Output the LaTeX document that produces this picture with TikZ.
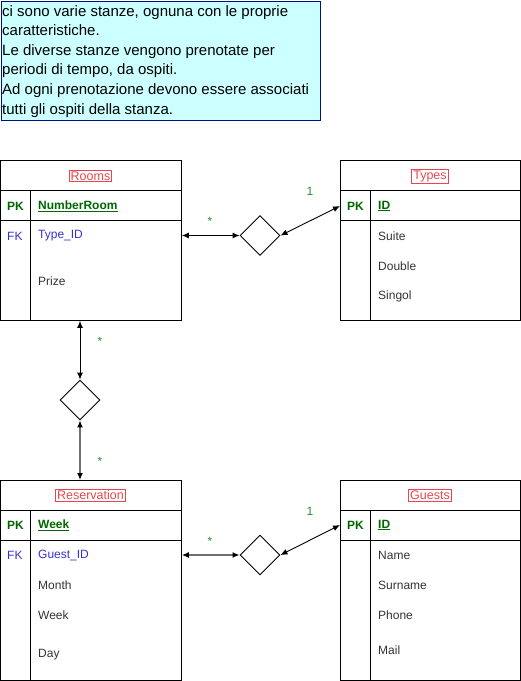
\documentclass[tikz,border=0pt]{standalone}
\usepackage{fontspec}
\setmainfont{Liberation Sans}
\usetikzlibrary{shapes.geometric,arrows.meta}
\definecolor{boxfill}{HTML}{CCFFFF}
\definecolor{boxline}{HTML}{001080}
\definecolor{pkgreen}{HTML}{006600}
\definecolor{fkblue}{HTML}{3333CC}
\definecolor{titlered}{HTML}{E6474F}
\definecolor{lblgreen}{HTML}{2E8B2E}
\definecolor{txt}{HTML}{333333}
\definecolor{grayline}{HTML}{707070}
\begin{document}
\begin{tikzpicture}[x=1pt,y=-1pt,
  tbl/.style={draw,line width=0.9pt,minimum width=#1,minimum height=160pt,anchor=north west,inner sep=0pt},
  sep/.style={line width=0.9pt},
  fld/.style={anchor=west,inner sep=0pt,text=txt,font=\fontsize{12}{14}\selectfont},
  pkf/.style={fld,text=pkgreen,font=\fontsize{12}{14}\selectfont\bfseries},
  fkf/.style={fld,text=fkblue},
  ttl/.style={draw=titlered,text=titlered,inner sep=1.5pt,line width=0.8pt,font=\fontsize{12.5}{14}\selectfont},
  rel/.style={draw,diamond,aspect=1,minimum width=40pt,minimum height=40pt,inner sep=0pt,line width=0.9pt,fill=white},
  conn/.style={{Latex[length=7pt,width=6pt,color=black]}-{Latex[length=7pt,width=6pt,color=black]},line width=0.9pt},
  lbl/.style={text=lblgreen,inner sep=0pt,font=\fontsize{12}{14}\selectfont},
  ]
\useasboundingbox (0,0) rectangle (521,681);

% description box
\node[draw=boxline,fill=boxfill,line width=0.9pt,minimum width=319pt,minimum height=119pt,anchor=north west,inner sep=0pt] (desc) at (0.5,0.5) {};
\node[anchor=north west,inner sep=0pt,align=left,text=black,font=\fontsize{15}{19.6}\selectfont] (desctext) at (2,5)
{ci sono varie stanze, ognuna con le proprie\\caratteristiche.\\Le diverse stanze vengono prenotate per\\periodi di tempo, da ospiti.\\Ad ogni prenotazione devono essere associati\\tutti gli ospiti della stanza.};

% Rooms
\node[tbl=181pt] (rooms) at (0,160) {};
\draw[sep] (0,190) -- (181,190);
\draw[sep] (0,220) -- (181,220);
\draw[sep] (30,190) -- (30,320);
\node[ttl] (rtitle) at (90.5,176) {Rooms};
\node[pkf] (rpk) at (7,206) {PK};
\node[pkf] (rpkn) at (38,206) {\underline{NumberRoom}};
\node[fkf] (rfk) at (7,236) {FK};
\node[fkf] (rfkn) at (38,236) {Type\_ID};
\node[fld] (rf1) at (38,281) {Prize};

% Types
\node[tbl=180pt] (types) at (340,160) {};
\draw[sep] (340,190) -- (520,190);
\draw[sep] (340,220) -- (520,220);
\draw[sep] (370,190) -- (370,320);
\node[ttl] (ttitle) at (430,176) {Types};
\node[pkf] (tpk) at (347,206) {PK};
\node[pkf] (tpkn) at (378,206) {\underline{ID}};
\node[fld] (tf1) at (378,236) {Suite};
\node[fld] (tf2) at (378,266) {Double};
\node[fld] (tf3) at (378,296) {Singol};

% Reservation
\node[tbl=181pt,minimum height=200pt] (res) at (0,480) {};
\draw[sep] (0,510) -- (181,510);
\draw[sep] (0,540) -- (181,540);
\draw[sep] (30,510) -- (30,680);
\node[ttl] (restitle) at (90.5,495) {Reservation};
\node[pkf] (respk) at (7,525) {PK};
\node[pkf] (respkn) at (38,525) {\underline{Week}};
\node[fkf] (resfk) at (7,555) {FK};
\node[fkf] (resfkn) at (38,555) {Guest\_ID};
\node[fld] (resf1) at (38,585) {Month};
\node[fld] (resf2) at (38,615) {Week};
\node[fld] (resf3) at (38,655) {Day};

% Guests
\node[tbl=180pt,minimum height=200pt] (guests) at (340,480) {};
\draw[sep] (340,510) -- (520,510);
\draw[sep] (340,540) -- (520,540);
\draw[sep] (370,510) -- (370,680);
\node[ttl] (gtitle) at (430,495) {Guests};
\node[pkf] (gpk) at (347,525) {PK};
\node[pkf] (gpkn) at (378,525) {\underline{ID}};
\node[fld] (gf1) at (378,555) {Name};
\node[fld] (gf2) at (378,585) {Surname};
\node[fld] (gf3) at (378,615) {Phone};
\node[fld] (gf4) at (378,650) {Mail};

% relationships
\node[rel] (d1) at (260,235.5) {};
\node[rel] (d2) at (80,400) {};
\node[rel] (d3) at (260,555) {};

\draw[conn] (rooms.east |- d1.west) -- (d1.west);
\draw[conn] (d1.east) -- (types.west |- tpk);
\draw[conn] (rooms.south -| d2) -- (d2.north);
\draw[conn,draw=grayline,line width=1.3pt] (d2.south) -- (res.north -| d2);
\draw[conn,draw=grayline,line width=1.3pt] (res.east |- d3.west) -- (d3.west);
\draw[conn] (d3.east) -- (guests.west |- gpk);

% multiplicities
\node[lbl] (m1) at (210,221) {*};
\node[lbl] (m2) at (310,191) {1};
\node[lbl] (m3) at (100,341) {*};
\node[lbl] (m4) at (100,461) {*};
\node[lbl] (m5) at (210,541) {*};
\node[lbl] (m6) at (310,511) {1};
\end{tikzpicture}
\end{document}
